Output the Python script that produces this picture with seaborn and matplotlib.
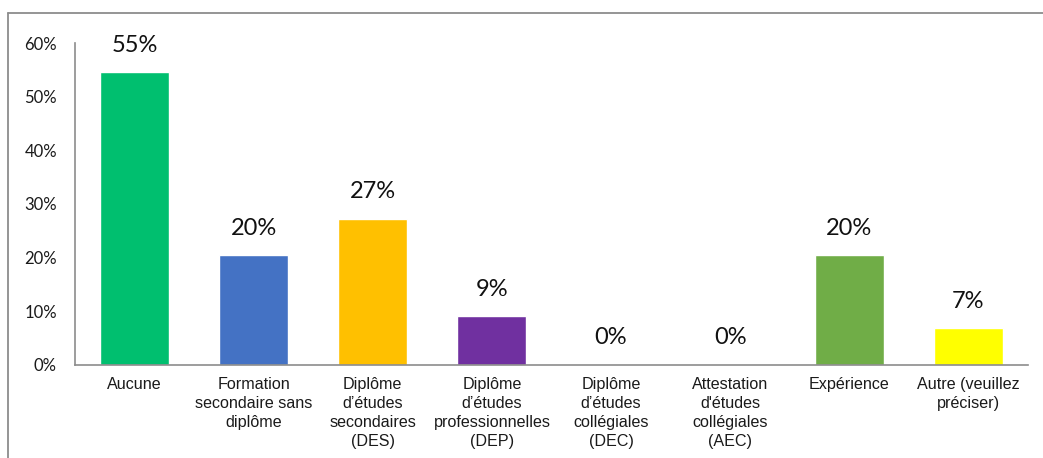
import matplotlib
matplotlib.use("Agg")
import matplotlib.pyplot as plt
from matplotlib.lines import Line2D
from matplotlib.ticker import PercentFormatter
import seaborn as sns

# Niveau de scolarité exigé (part des répondants)
categories = [
    "Aucune",
    "Formation\nsecondaire sans\ndiplôme",
    "Diplôme\nd’études\nsecondaires\n(DES)",
    "Diplôme\nd’études\nprofessionnelles\n(DEP)",
    "Diplôme\nd’études\ncollégiales\n(DEC)",
    "Attestation\nd'études\ncollégiales\n(AEC)",
    "Expérience",
    "Autre (veuillez\npréciser)",
]
shares = [0.5455, 0.2045, 0.2727, 0.0909, 0.0, 0.0, 0.2045, 0.0682]
bar_colors = ["#00BF6F", "#4472C4", "#FFC000", "#7030A0",
              "#A5A5A5", "#5B9BD5", "#70AD47", "#FFFF00"]
y_ticks = [0, 0.1, 0.2, 0.3, 0.4, 0.5, 0.6]

sns.set_theme(style="white")
plt.rcParams["font.family"] = ["Lato", "DejaVu Sans"]

fig = plt.figure(figsize=(10.43, 4.58), dpi=100)
ax = fig.add_axes([0.0719, 0.2031, 0.9137, 0.7030])

sns.barplot(x=categories, y=shares, hue=categories, palette=bar_colors,
            width=0.58, saturation=1, legend=False, ax=ax)

ax.set_ylim(0, 0.6)
ax.set_xlim(-0.5, len(categories) - 0.5)
ax.set_yticks(y_ticks)
ax.yaxis.set_major_formatter(PercentFormatter(1.0, decimals=0))
ax.tick_params(axis="y", labelsize=12, length=0, pad=13, labelcolor="#1a1a1a")
ax.tick_params(axis="x", length=0, pad=9)
for lbl in ax.get_xticklabels():
    lbl.set_fontfamily(["Liberation Sans", "DejaVu Sans"])
    lbl.set_fontsize(11.6)
    lbl.set_linespacing(1.32)
    lbl.set_verticalalignment("top")
    lbl.set_color("#1a1a1a")
ax.set_xlabel("")
ax.set_ylabel("")

for side in ["top", "right"]:
    ax.spines[side].set_visible(False)
for side in ["left", "bottom"]:
    ax.spines[side].set_color("#8c8c8c")
    ax.spines[side].set_linewidth(1.2)

# value labels above each bar
for i, v in enumerate(shares):
    ax.annotate(f"{v * 100:.0f}%", xy=(i, v), xytext=(0, 19.5),
                textcoords="offset points", ha="center", va="center",
                fontsize=17, color="#111111", annotation_clip=False)

# chart-area border
border_color = "#8c8c8c"
fig.add_artist(Line2D([8 / 1043, 1.0], [1 - 13 / 458, 1 - 13 / 458],
                      transform=fig.transFigure, color=border_color, lw=1.3))
fig.add_artist(Line2D([8 / 1043, 8 / 1043], [0.0, 1 - 13 / 458],
                      transform=fig.transFigure, color=border_color, lw=1.3))

fig.savefig("out.png", dpi=100)
